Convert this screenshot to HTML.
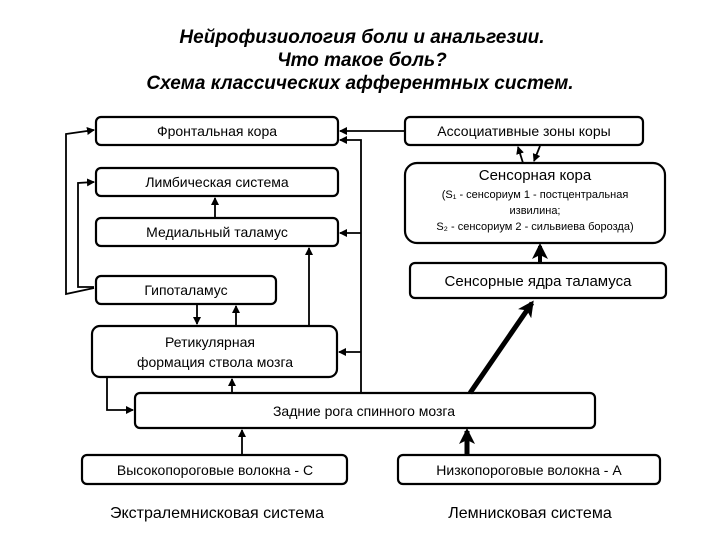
<!DOCTYPE html>
<html><head><meta charset="utf-8"><style>
body{margin:0;background:#fff;}
svg text{font-family:"Liberation Sans","DejaVu Sans",sans-serif;fill:#000;}
</style></head><body>
<svg width="720" height="540" viewBox="0 0 720 540" xmlns="http://www.w3.org/2000/svg">
<defs>
<marker id="a" markerWidth="8" markerHeight="8" refX="7" refY="4" orient="auto" markerUnits="userSpaceOnUse"><path d="M0,0 L8,4 L0,8 Z" fill="#000"/></marker>
<marker id="b" markerWidth="16" markerHeight="16" refX="13" refY="8" orient="auto" markerUnits="userSpaceOnUse"><path d="M0,0 L16,8 L0,16 L4,8 Z" fill="#000"/></marker>
</defs>
<g font-style="italic" font-weight="bold" font-size="19" text-anchor="middle">
<text x="362" y="43">Нейрофизиология боли и анальгезии.</text>
<text x="362" y="66">Что такое боль?</text>
<text x="360" y="89">Схема классических афферентных систем.</text>
</g>
<g fill="#fff" stroke="#000" stroke-width="2.2">
<rect x="96" y="117" width="242" height="28" rx="5"/>
<rect x="96" y="168" width="242" height="28" rx="5"/>
<rect x="96" y="218" width="242" height="28" rx="5"/>
<rect x="96" y="276" width="180" height="28" rx="5"/>
<rect x="405" y="117" width="238" height="28" rx="5"/>
<rect x="405" y="163" width="260" height="80" rx="12"/>
<rect x="410" y="263" width="256" height="35" rx="5"/>
<rect x="92" y="326" width="245" height="51" rx="8"/>
<rect x="135" y="393" width="460" height="35" rx="5"/>
<rect x="82" y="455" width="265" height="29" rx="5"/>
<rect x="398" y="455" width="262" height="29" rx="5"/>
</g>
<g font-size="14" text-anchor="middle">
<text x="217" y="136">Фронтальная кора</text>
<text x="217" y="187">Лимбическая система</text>
<text x="217" y="237">Медиальный таламус</text>
<text x="186" y="295">Гипоталамус</text>
<text x="524" y="136">Ассоциативные зоны коры</text>
<text x="535" y="180" font-size="15">Сенсорная кора</text>
<text x="535" y="198" font-size="11">(S₁ - сенсориум 1 - постцентральная</text>
<text x="535" y="214" font-size="11">извилина;</text>
<text x="535" y="230" font-size="11">S₂ -  сенсориум 2 -  сильвиева борозда)</text>
<text x="538" y="286" font-size="15">Сенсорные ядра таламуса</text>
<text x="210" y="347">Ретикулярная</text>
<text x="215" y="367">формация ствола мозга</text>
<text x="364" y="416">Задние рога спинного мозга</text>
<text x="215" y="475">Высокопороговые волокна - С</text>
<text x="529" y="475">Низкопороговые волокна - А</text>
<text x="217" y="518" font-size="16">Экстралемнисковая система</text>
<text x="530" y="518" font-size="16">Лемнисковая система</text>
</g>
<g stroke="#000" stroke-width="1.8" fill="none">
<line x1="405" y1="131" x2="340" y2="131" marker-end="url(#a)"/>
<polyline points="361,393 361,140 340,140" marker-end="url(#a)"/>
<polyline points="361,233 340,233" marker-end="url(#a)"/>
<line x1="361" y1="352" x2="339" y2="352" marker-end="url(#a)"/>
<line x1="309" y1="326" x2="309" y2="248" marker-end="url(#a)"/>
<line x1="215" y1="218" x2="215" y2="198" marker-end="url(#a)"/>
<line x1="197" y1="304" x2="197" y2="324" marker-end="url(#a)"/>
<line x1="236" y1="326" x2="236" y2="306" marker-end="url(#a)"/>
<polyline points="94,288 66,294 66,134 94,130" marker-end="url(#a)"/>
<polyline points="94,287 78,287 78,183 94,182" marker-end="url(#a)"/>
<polyline points="107,377 107,410 133,410" marker-end="url(#a)"/>
<line x1="232" y1="393" x2="232" y2="379" marker-end="url(#a)"/>
<line x1="242" y1="455" x2="242" y2="430" marker-end="url(#a)"/>
<line x1="523" y1="163" x2="518" y2="147" marker-end="url(#a)"/>
<line x1="540" y1="146" x2="534" y2="161" marker-end="url(#a)"/>
</g>
<g stroke="#000" stroke-width="5" fill="none">
<line x1="467" y1="455" x2="467" y2="431" marker-end="url(#b)"/>
<line x1="470" y1="393" x2="532" y2="303" marker-end="url(#b)"/>
<line x1="540" y1="263" x2="540" y2="246" stroke-width="4" marker-end="url(#b)"/>
</g>
</svg>
</body></html>
